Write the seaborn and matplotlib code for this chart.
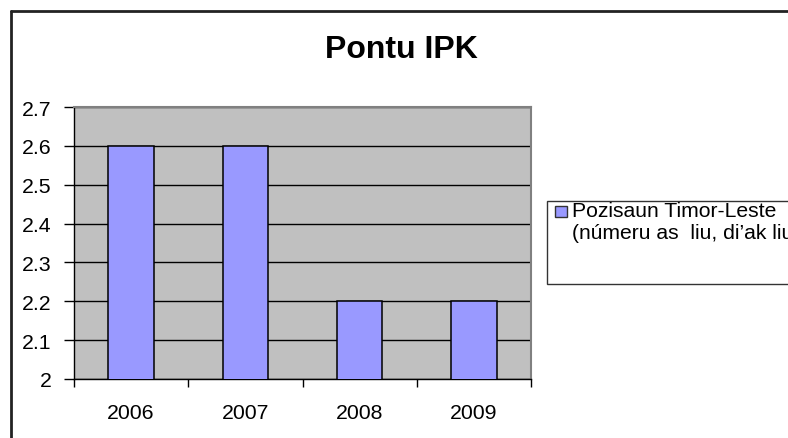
import matplotlib
matplotlib.use("Agg")
import matplotlib.pyplot as plt
from matplotlib.patches import Rectangle
from matplotlib.lines import Line2D
import seaborn as sns
import pandas as pd

years = ["2006", "2007", "2008", "2009"]
scores = [2.6, 2.6, 2.2, 2.2]
y_ticks = [2.0, 2.1, 2.2, 2.3, 2.4, 2.5, 2.6, 2.7]
y_tick_labels = ["2", "2.1", "2.2", "2.3", "2.4", "2.5", "2.6", "2.7"]
title = "Pontu IPK"
series_label = "Pozisaun Timor-Leste\n(númeru as  liu, di\u2019ak liu"

df = pd.DataFrame({"year": years, "score": scores})

sns.set_style("white")
plt.rcParams["font.family"] = ["Liberation Sans", "DejaVu Sans"]
plt.rcParams["text.color"] = "black"
plt.rcParams["xtick.color"] = "black"
plt.rcParams["ytick.color"] = "black"
plt.rcParams["xtick.labelcolor"] = "black"
plt.rcParams["ytick.labelcolor"] = "black"

W, H = 788, 439
fig = plt.figure(figsize=(W / 100, H / 100), dpi=100)
ax = fig.add_axes([74 / W, 1 - 380 / H, (531 - 74) / W, (380 - 108) / H])

bar_color = "#9999FF"
sns.barplot(data=df, x="year", y="score", color=bar_color, width=0.4,
            edgecolor="black", linewidth=1.1, saturation=1, ax=ax, zorder=3)

ax.set_facecolor("#C0C0C0")
ax.set_ylim(2.0, 2.7)
ax.set_xlim(-0.5, 3.5)
ax.set_yticks(y_ticks)
ax.set_yticklabels(y_tick_labels)
ax.set_xticks(range(len(years)))
ax.set_xticklabels(years)
ax.set_xticks([i - 0.5 for i in range(len(years) + 1)], minor=True)
ax.set_xlabel("")
ax.set_ylabel("")

ax.yaxis.grid(True, color="black", linewidth=1.0, zorder=1)
ax.set_axisbelow(True)
ax.tick_params(axis="y", which="major", direction="out", length=7, width=1,
               color="black", pad=9, labelsize=15.3, left=True)
ax.tick_params(axis="x", which="major", length=0, pad=17, labelsize=15.3)
ax.tick_params(axis="x", which="minor", direction="out", length=6, width=1,
               color="black", bottom=True)

for side in ["top", "right"]:
    ax.spines[side].set_visible(True)
    ax.spines[side].set_color("#808080")
    ax.spines[side].set_linewidth(1.5)
for side in ["left", "bottom"]:
    ax.spines[side].set_visible(True)
    ax.spines[side].set_color("black")
    ax.spines[side].set_linewidth(1.0)

fig.text(401 / W, 1 - 50 / H, title, ha="center", va="center",
         fontsize=23, fontweight="bold", color="black")

# outer chart border (left and top edges)
fig.add_artist(Line2D([11 / W, 11 / W], [0, 1 - 11.5 / H], color="#222222",
                      linewidth=2, transform=fig.transFigure))
fig.add_artist(Line2D([11 / W, 1.0], [1 - 11.5 / H, 1 - 11.5 / H], color="#222222",
                      linewidth=2, transform=fig.transFigure))

# legend box
fig.add_artist(Rectangle((547 / W, 1 - 285 / H), (900 - 547) / W, (285 - 202) / H,
                         transform=fig.transFigure, facecolor="white",
                         edgecolor="#333333", linewidth=1.0, clip_on=False))
fig.add_artist(Rectangle((555 / W, 1 - 218 / H), 12 / W, 11 / H,
                         transform=fig.transFigure, facecolor=bar_color,
                         edgecolor="#333333", linewidth=1.0))
fig.text(572 / W, 1 - 202 / H, series_label, ha="left", va="top",
         fontsize=15.2, linespacing=1.2, color="black")

fig.savefig("out.png", dpi=100, facecolor="white")
